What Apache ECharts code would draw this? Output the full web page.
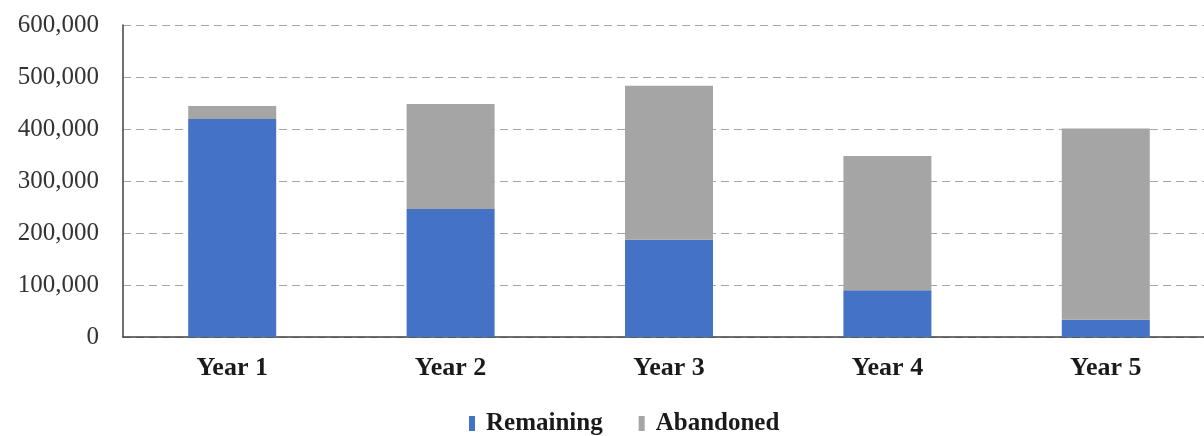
<!DOCTYPE html>
<html><head><meta charset="utf-8">
<script src="https://cdn.jsdelivr.net/npm/echarts@6/dist/echarts.min.js"></script>
<style>html,body{margin:0;padding:0;background:#fff;overflow:hidden}#c{width:1215px;height:436px}</style>
</head><body><div id="c"></div>
<script>
var categories = ['Year 1', 'Year 2', 'Year 3', 'Year 4', 'Year 5'];
var remaining = [419000, 246000, 187000, 90000, 33000];
var abandoned = [25000, 202000, 296000, 258000, 368000];
var seriesNames = ['Remaining', 'Abandoned'];

var chart = echarts.init(document.getElementById('c'));
chart.setOption({
  animation: false,
  grid: { left: 123, right: 0, top: 25, bottom: 99, containLabel: false },
  legend: {
    left: 464, top: 406,
    itemWidth: 6, itemHeight: 15, itemGap: 36,
    icon: 'rect',
    textStyle: { fontFamily: 'Liberation Serif', fontWeight: 'bold', fontSize: 25, color: '#1a1a1a', padding: [0, 0, 0, 6] },
    data: seriesNames
  },
  xAxis: {
    type: 'category', data: categories,
    axisLine: { lineStyle: { color: '#404040', width: 1.5 } },
    axisTick: { show: false },
    axisLabel: { fontFamily: 'Liberation Serif', fontWeight: 'bold', fontSize: 26, color: '#1a1a1a', margin: 18 }
  },
  yAxis: {
    type: 'value', min: 0, max: 600000, interval: 100000,
    axisLine: { show: true, lineStyle: { color: '#404040', width: 1.5 } },
    axisTick: { show: false },
    splitLine: { lineStyle: { color: '#a6a6a6', type: [8, 5], width: 1 } },
    axisLabel: {
      fontFamily: 'Liberation Serif', fontSize: 25, color: '#333333', margin: 24,
      formatter: function (v) { return v.toLocaleString('en-US'); }
    }
  },
  series: [
    { name: seriesNames[0], type: 'bar', stack: 's', data: remaining, barWidth: 88, itemStyle: { color: '#4472C4' } },
    { name: seriesNames[1], type: 'bar', stack: 's', data: abandoned, barWidth: 88, itemStyle: { color: '#A5A5A5' } }
  ]
});
</script></body></html>
